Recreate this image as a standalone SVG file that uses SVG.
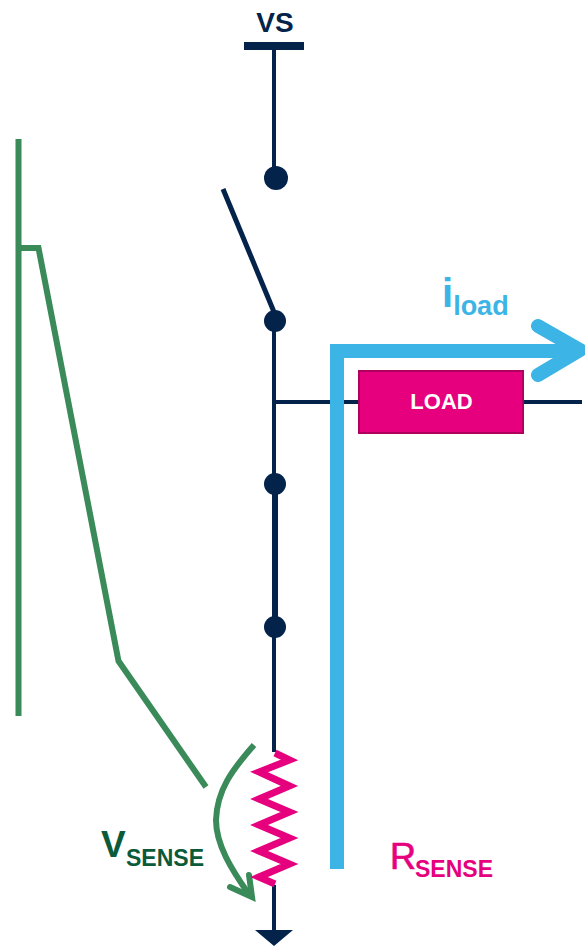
<svg xmlns="http://www.w3.org/2000/svg" width="585" height="946" viewBox="0 0 585 946">
<style>
.n{stroke:#03234b;fill:none}
.d{fill:#03234b}
.g{stroke:#3a8a5a;fill:none}
.t{font-family:"Liberation Sans",Arial,sans-serif;font-weight:700}
</style>
<rect width="585" height="946" fill="#fff"/>
<g id="connectors">
<path class="n" stroke-width="4" d="M274 46V178M274 321V752M274 885V935M274 402H359M523 402H582"/>
<path class="n" stroke-width="5" d="M223 189L274 312"/>
<path class="n" stroke-width="6" d="M275 484V627"/>
<path class="g" stroke-width="6" d="M18.500 139V716"/>
<path class="g" stroke-width="6" stroke-linejoin="miter" d="M18 248H38.500L118.500 661L206 787"/>
<path class="g" stroke-width="6" d="M254 745C232 770 217 790 216 820C216 845 232 870 248 893"/>
<path class="g" stroke-width="6" stroke-linecap="round" stroke-linejoin="miter" d="M249 875L252 897L230 887"/>
<path fill="none" stroke="#3cb4e6" stroke-width="14" d="M337 869V351H578"/>
<path fill="none" stroke="#3cb4e6" stroke-width="14" stroke-linecap="round" stroke-linejoin="round" d="M538 326L580 350L538 375"/>
</g>
<g id="vs">
<rect x="244" y="42" width="60" height="8" class="d"/>
<text class="t" x="275" y="32" font-size="28" text-anchor="middle" fill="#03234b">VS</text>
</g>
<g id="contact1"><circle cx="276" cy="178" r="12" class="d"/></g>
<g id="contact2"><circle cx="275" cy="321" r="11" class="d"/></g>
<g id="contact3"><circle cx="275" cy="484" r="11" class="d"/></g>
<g id="contact4"><circle cx="275" cy="627" r="11" class="d"/></g>
<g id="load">
<rect x="359" y="371" width="164" height="62" fill="#e6007e" stroke="#b0005f" stroke-width="2"/>
<text class="t" x="441.500" y="409" font-size="22" text-anchor="middle" fill="#fff">LOAD</text>
</g>
<g id="iload">
<text class="t" x="442" y="307" font-size="40" fill="#3cb4e6">i<tspan font-size="27" dy="8">load</tspan></text>
</g>
<g id="rsense">
<path fill="none" stroke="#e6007e" stroke-width="7" stroke-linejoin="miter" d="M275 753L289.500 760L259 772L289.500 786L259 799L289.500 812L259 825L289.500 838L259 851L289.500 864L259 877L275 884"/>
<text class="t" x="390" y="869" font-size="36" fill="#e6007e" stroke="#e6007e" stroke-width="0.7" style="font-weight:400">R</text>
<text class="t" x="415" y="877" font-size="23" fill="#e6007e">SENSE</text>
</g>
<g id="vsense">
<text class="t" x="101" y="857" font-size="37" fill="#0b5a3a">V</text>
<text class="t" x="126" y="866" font-size="23" fill="#0b5a3a">SENSE</text>
</g>
<g id="ground"><polygon points="255,930 293,930 274,946" class="d"/></g>
</svg>
